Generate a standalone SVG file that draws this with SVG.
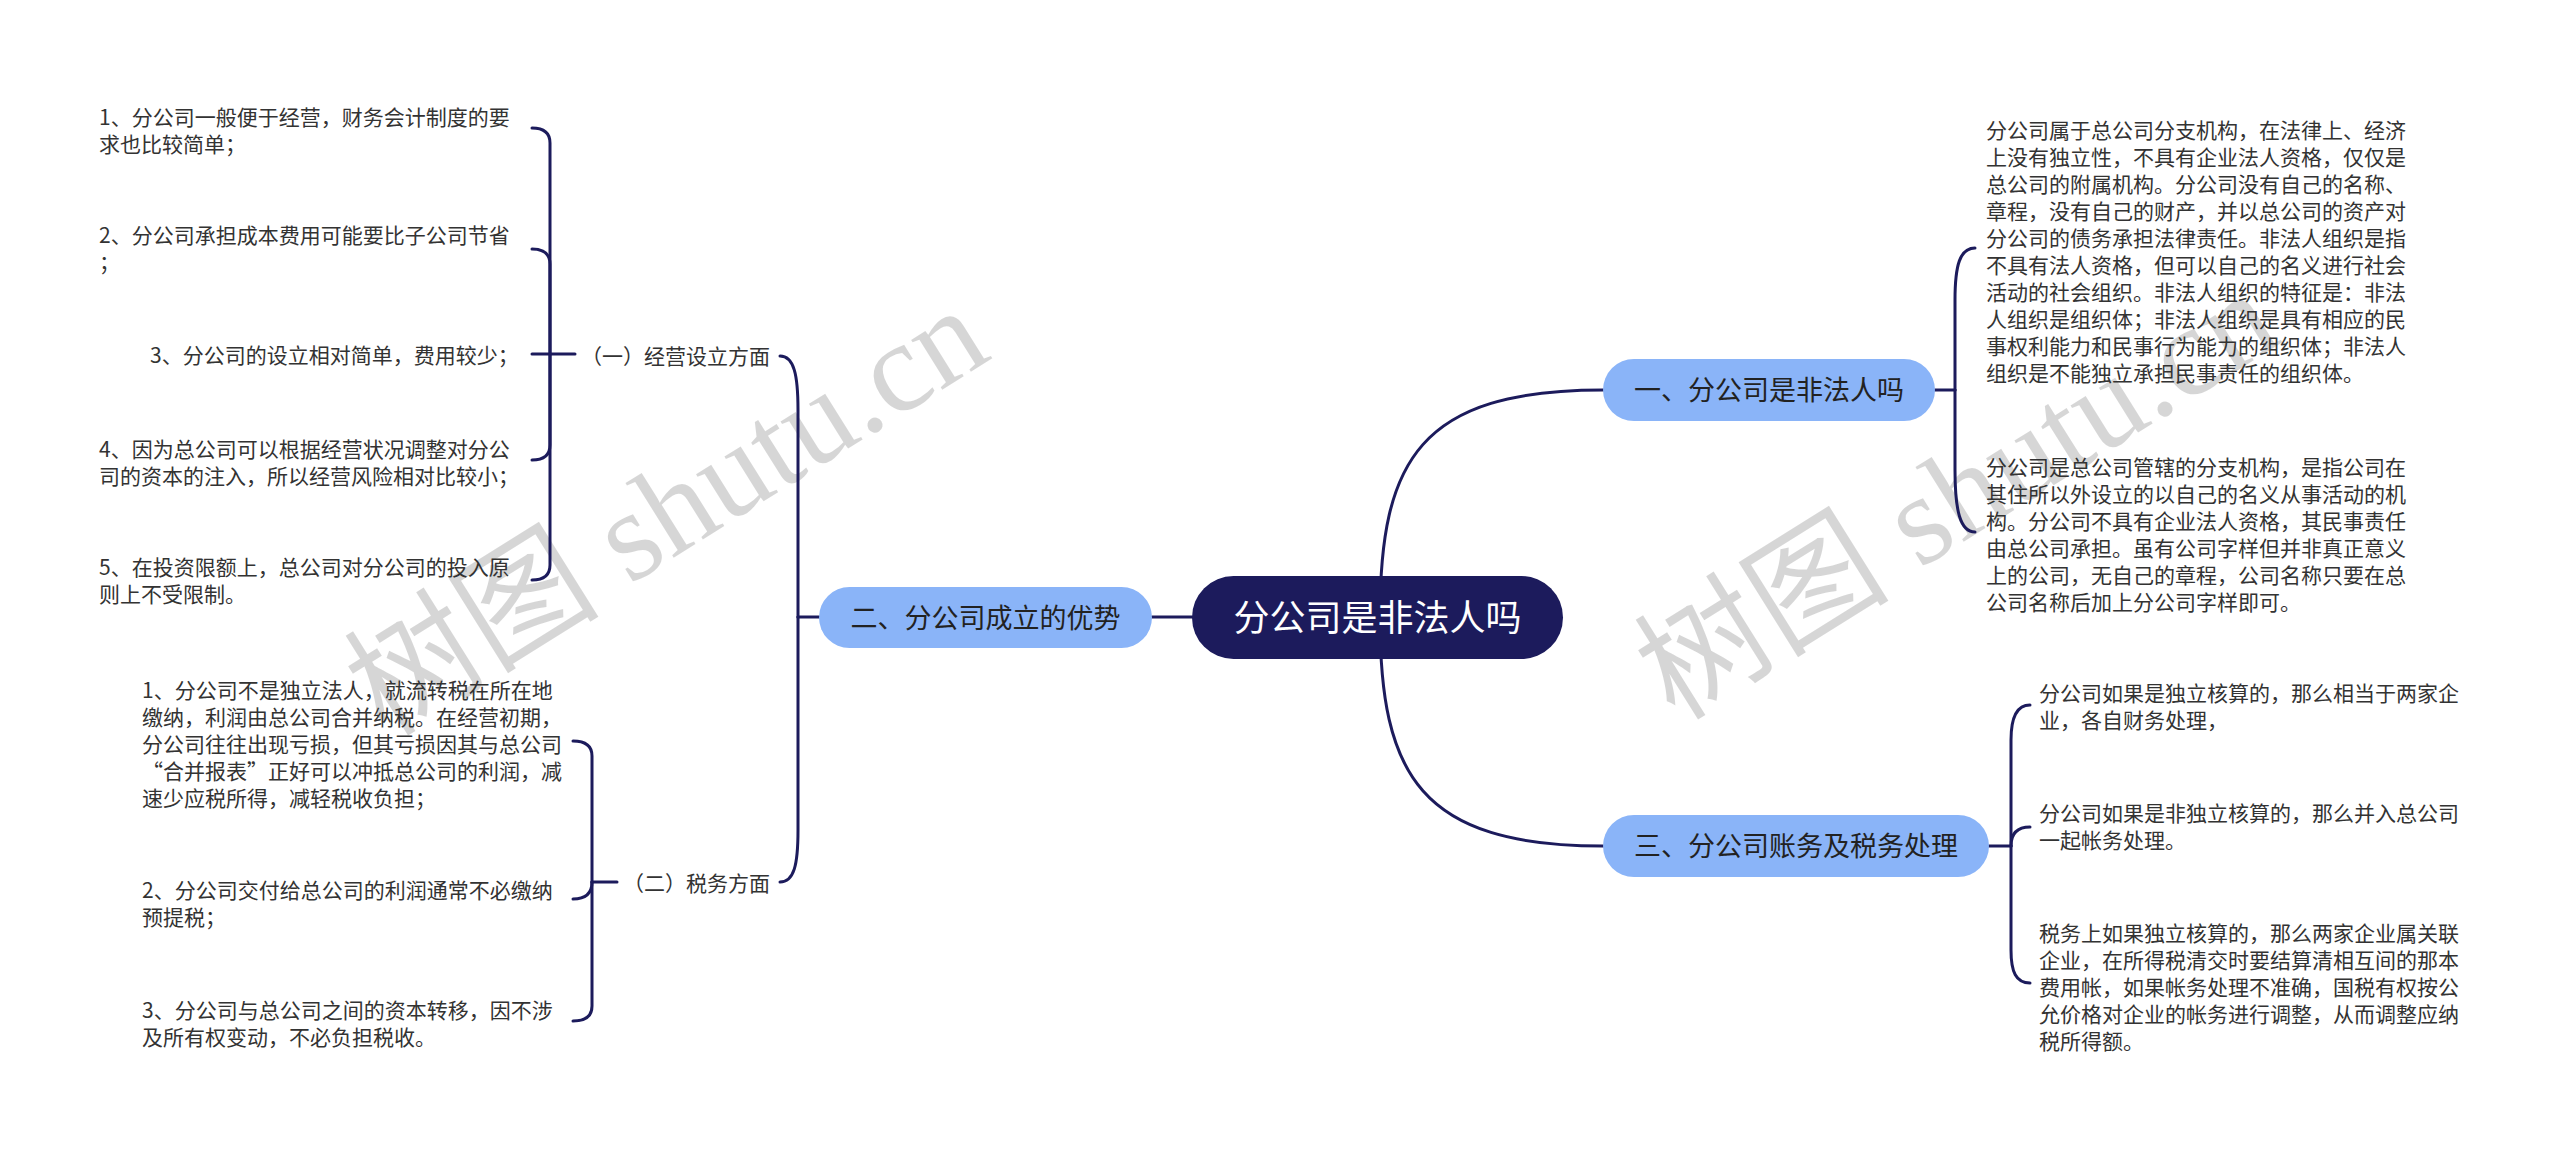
<svg xmlns="http://www.w3.org/2000/svg" width="2560" height="1154" viewBox="0 0 2560 1154">
<style>
.t{font-family:"Noto Sans CJK SC","Noto Sans",sans-serif;font-size:21px;fill:#333}
.n{font-family:"Noto Sans CJK SC","Noto Sans",sans-serif;font-size:27px;fill:#222;text-anchor:middle}
.c{stroke:#1c1b5c;stroke-width:3;fill:none;stroke-linecap:round}
.b{fill:#8ab4f8}
.wm{font-family:"Liberation Serif","Noto Sans CJK SC",serif;font-size:128px;fill:#000;fill-opacity:0.16}
</style>
<rect width="2560" height="1154" fill="#fff"/>
<g id="watermark">
<text class="wm" transform="translate(385,738) rotate(-32)">树图 shutu.cn</text>
<text class="wm" transform="translate(1675,722) rotate(-32)">树图 shutu.cn</text>
</g>
<g id="connectors">
<path class="c" d="M1380,617 C1380,460 1420,390 1603,390"/>
<path class="c" d="M1380,617 C1380,775 1420,846 1603,846"/>
<path class="c" d="M1152,617 H1192"/>
<path class="c" d="M819,617 H798"/>
<path class="c" d="M798,617 V410 C798,375 794,356 780,356"/>
<path class="c" d="M798,617 V830 C798,865 794,882 780,882"/>
<path class="c" d="M575,354 H532"/>
<path class="c" d="M550,354 V143 Q550,128 532,128"/>
<path class="c" d="M550,354 V264 Q550,249 532,249"/>
<path class="c" d="M550,354 V445 Q550,460 532,460"/>
<path class="c" d="M550,354 V565 Q550,580 532,580"/>
<path class="c" d="M617,882 H592"/>
<path class="c" d="M592,882 V756 Q592,741 573,741"/>
<path class="c" d="M592,882 Q592,899 573,899"/>
<path class="c" d="M592,882 V1006 Q592,1021 573,1021"/>
<path class="c" d="M1935,390 H1955"/>
<path class="c" d="M1955,390 V300 C1955,265 1960,248 1975,248"/>
<path class="c" d="M1955,390 V470 C1955,510 1960,532 1975,532"/>
<path class="c" d="M1989,846 H2011"/>
<path class="c" d="M2011,846 V740 C2011,718 2016,705 2030,705"/>
<path class="c" d="M2011,846 C2011,835 2016,827 2030,827"/>
<path class="c" d="M2011,846 V950 C2011,972 2016,983 2030,983"/>
</g>
<g id="root">
<rect x="1192" y="576" width="371" height="83" rx="41.5" fill="#1c1b5c"/>
<text x="1377.5" y="631" style="font-family:'Noto Sans CJK SC',sans-serif;font-size:36px;fill:#fff;text-anchor:middle">分公司是非法人吗</text>
</g>
<g id="b2">
<rect class="b" x="819" y="587" width="333" height="61" rx="30.5"/>
<text class="n" x="985.5" y="627.5">二、分公司成立的优势</text>
</g>
<g id="b1">
<rect class="b" x="1603" y="359" width="332" height="62" rx="31"/>
<text class="n" x="1769" y="400">一、分公司是非法人吗</text>
</g>
<g id="b3">
<rect class="b" x="1603" y="815" width="386" height="62" rx="31"/>
<text class="n" x="1796" y="856">三、分公司账务及税务处理</text>
</g>
<g id="s1"><text class="t" x="581" y="364">（一）经营设立方面</text></g>
<g id="s2"><text class="t" x="623" y="891">（二）税务方面</text></g>
<g id="s1a"><text class="t" x="99" y="125">1、分公司一般便于经营，财务会计制度的要<tspan x="99" dy="27">求也比较简单；</tspan></text></g>
<g id="s1b"><text class="t" x="99" y="243">2、分公司承担成本费用可能要比子公司节省<tspan x="99" dy="27">；</tspan></text></g>
<g id="s1c"><text class="t" x="150" y="363">3、分公司的设立相对简单，费用较少；</text></g>
<g id="s1d"><text class="t" x="99" y="457">4、因为总公司可以根据经营状况调整对分公<tspan x="99" dy="27">司的资本的注入，所以经营风险相对比较小；</tspan></text></g>
<g id="s1e"><text class="t" x="99" y="575">5、在投资限额上，总公司对分公司的投入原<tspan x="99" dy="27">则上不受限制。</tspan></text></g>
<g id="s2a"><text class="t" x="142" y="698">1、分公司不是独立法人，就流转税在所在地<tspan x="142" dy="27">缴纳，利润由总公司合并纳税。在经营初期，</tspan><tspan x="142" dy="27">分公司往往出现亏损，但其亏损因其与总公司</tspan><tspan x="142" dy="27">“合并报表”正好可以冲抵总公司的利润，减</tspan><tspan x="142" dy="27">速少应税所得，减轻税收负担；</tspan></text></g>
<g id="s2b"><text class="t" x="142" y="898">2、分公司交付给总公司的利润通常不必缴纳<tspan x="142" dy="27">预提税；</tspan></text></g>
<g id="s2c"><text class="t" x="142" y="1018">3、分公司与总公司之间的资本转移，因不涉<tspan x="142" dy="27">及所有权变动，不必负担税收。</tspan></text></g>
<g id="r1a"><text class="t" x="1986" y="138">分公司属于总公司分支机构，在法律上、经济<tspan x="1986" dy="27">上没有独立性，不具有企业法人资格，仅仅是</tspan><tspan x="1986" dy="27">总公司的附属机构。分公司没有自己的名称、</tspan><tspan x="1986" dy="27">章程，没有自己的财产，并以总公司的资产对</tspan><tspan x="1986" dy="27">分公司的债务承担法律责任。非法人组织是指</tspan><tspan x="1986" dy="27">不具有法人资格，但可以自己的名义进行社会</tspan><tspan x="1986" dy="27">活动的社会组织。非法人组织的特征是：非法</tspan><tspan x="1986" dy="27">人组织是组织体；非法人组织是具有相应的民</tspan><tspan x="1986" dy="27">事权利能力和民事行为能力的组织体；非法人</tspan><tspan x="1986" dy="27">组织是不能独立承担民事责任的组织体。</tspan></text></g>
<g id="r1b"><text class="t" x="1986" y="475">分公司是总公司管辖的分支机构，是指公司在<tspan x="1986" dy="27">其住所以外设立的以自己的名义从事活动的机</tspan><tspan x="1986" dy="27">构。分公司不具有企业法人资格，其民事责任</tspan><tspan x="1986" dy="27">由总公司承担。虽有公司字样但并非真正意义</tspan><tspan x="1986" dy="27">上的公司，无自己的章程，公司名称只要在总</tspan><tspan x="1986" dy="27">公司名称后加上分公司字样即可。</tspan></text></g>
<g id="r3a"><text class="t" x="2039" y="701">分公司如果是独立核算的，那么相当于两家企<tspan x="2039" dy="27">业，各自财务处理，</tspan></text></g>
<g id="r3b"><text class="t" x="2039" y="821">分公司如果是非独立核算的，那么并入总公司<tspan x="2039" dy="27">一起帐务处理。</tspan></text></g>
<g id="r3c"><text class="t" x="2039" y="941">税务上如果独立核算的，那么两家企业属关联<tspan x="2039" dy="27">企业，在所得税清交时要结算清相互间的那本</tspan><tspan x="2039" dy="27">费用帐，如果帐务处理不准确，国税有权按公</tspan><tspan x="2039" dy="27">允价格对企业的帐务进行调整，从而调整应纳</tspan><tspan x="2039" dy="27">税所得额。</tspan></text></g>
</svg>
